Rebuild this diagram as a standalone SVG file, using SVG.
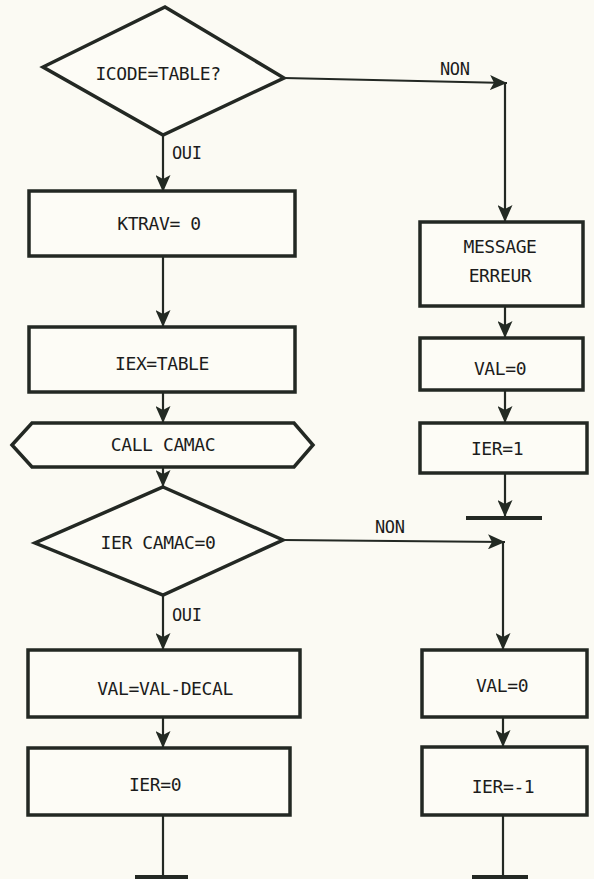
<svg xmlns="http://www.w3.org/2000/svg" width="594" height="879" viewBox="0 0 594 879">
<defs>
<style>
.bg{fill:#fbfaf3}
.n{fill:#fdfcf6;stroke:#232823;stroke-width:3.5;stroke-linejoin:miter}
.c{fill:none;stroke:#232823;stroke-width:2.2}
.bar{fill:none;stroke:#232823;stroke-width:4}
.t{font-family:"DejaVu Sans Mono","Liberation Mono",monospace;font-size:18px;letter-spacing:-0.4px;fill:#1c1c1c;text-anchor:middle}
.l{font-family:"DejaVu Sans Mono","Liberation Mono",monospace;font-size:17px;letter-spacing:-0.4px;fill:#1c1c1c}
</style>
<marker id="ah" viewBox="0 0 17 15" refX="17" refY="7.5" markerWidth="17" markerHeight="15" markerUnits="userSpaceOnUse" orient="auto">
<path d="M0,0 L17,7.5 L0,15 L4,7.5 z" fill="#232a23"/>
</marker>
</defs>
<rect class="bg" x="0" y="0" width="594" height="879"/>
<g id="connectors">
<path class="c" d="M163,135 L163,192" marker-end="url(#ah)"/>
<path class="c" d="M163,256 L163,327" marker-end="url(#ah)"/>
<path class="c" d="M163,392 L163,423" marker-end="url(#ah)"/>
<path class="c" d="M163,467 L163,487" marker-end="url(#ah)"/>
<path class="c" d="M163,595 L163,650" marker-end="url(#ah)"/>
<path class="c" d="M163,717 L163,748" marker-end="url(#ah)"/>
<path class="c" d="M163,815 L163,877"/>
<path class="bar" d="M135,877 L188,877"/>
<path class="c" d="M284,78 L507,83" marker-end="url(#ah)"/>
<path class="c" d="M505,83 L505,222" marker-end="url(#ah)"/>
<path class="c" d="M505,306 L505,338" marker-end="url(#ah)"/>
<path class="c" d="M505,390 L505,423" marker-end="url(#ah)"/>
<path class="c" d="M505,473 L505,517" marker-end="url(#ah)"/>
<path class="bar" d="M466,518 L542,518"/>
<path class="c" d="M283,540 L505,542" marker-end="url(#ah)"/>
<path class="c" d="M503,542 L503,650" marker-end="url(#ah)"/>
<path class="c" d="M503,717 L503,747" marker-end="url(#ah)"/>
<path class="c" d="M503,815 L503,877"/>
<path class="bar" d="M472,877 L528,877"/>
<text class="l" x="172" y="159">OUI</text>
<text class="l" x="440" y="75">NON</text>
<text class="l" x="172" y="621">OUI</text>
<text class="l" x="375" y="533">NON</text>
</g>
<g id="d1">
<polygon class="n" points="165,7 284,78 163,135 43,67"/>
<text class="t" x="158" y="80">ICODE=TABLE?</text>
</g>
<g id="b_ktrav">
<rect class="n" x="29" y="191" width="266" height="65"/>
<text class="t" x="159" y="230">KTRAV= 0</text>
</g>
<g id="b_iex">
<rect class="n" x="29" y="327" width="266" height="65"/>
<text class="t" x="162" y="370">IEX=TABLE</text>
</g>
<g id="call">
<polygon class="n" points="12,445 32,423 294,423 313,445 294,467 32,467"/>
<text class="t" x="163" y="451">CALL CAMAC</text>
</g>
<g id="d2">
<polygon class="n" points="163,487 283,540 163,595 35,543"/>
<text class="t" x="158" y="549">IER CAMAC=0</text>
</g>
<g id="b_val">
<rect class="n" x="28" y="650" width="272" height="67"/>
<text class="t" x="165" y="695">VAL=VAL-DECAL</text>
</g>
<g id="b_ier0">
<rect class="n" x="28" y="748" width="262" height="67"/>
<text class="t" x="155" y="791">IER=0</text>
</g>
<g id="b_msg">
<rect class="n" x="420" y="222" width="163" height="84"/>
<text class="t" x="500" y="253">MESSAGE</text>
<text class="t" x="500" y="282">ERREUR</text>
</g>
<g id="b_val0a">
<rect class="n" x="420" y="338" width="163" height="52"/>
<text class="t" x="500" y="375">VAL=0</text>
</g>
<g id="b_ier1">
<rect class="n" x="420" y="423" width="167" height="50"/>
<text class="t" x="497" y="455">IER=1</text>
</g>
<g id="b_val0b">
<rect class="n" x="422" y="650" width="165" height="67"/>
<text class="t" x="502" y="692">VAL=0</text>
</g>
<g id="b_ierm1">
<rect class="n" x="422" y="747" width="165" height="68"/>
<text class="t" x="503" y="793">IER=-1</text>
</g>
</svg>
